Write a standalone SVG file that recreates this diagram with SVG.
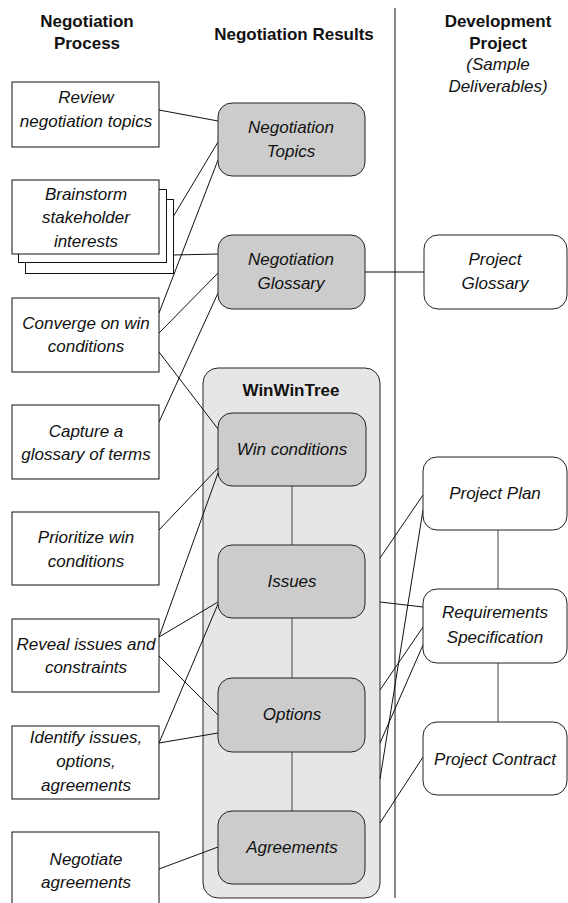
<svg xmlns="http://www.w3.org/2000/svg" width="568" height="903" viewBox="0 0 568 903">
<style>
.hdr{font-family:"Liberation Sans",Arial,sans-serif;font-size:17px;font-weight:bold;fill:#111;text-anchor:middle}
.sub{font-family:"Liberation Sans",Arial,sans-serif;font-size:17px;font-style:italic;fill:#111;text-anchor:middle}
.t{font-family:"Liberation Sans",Arial,sans-serif;font-size:17px;font-style:italic;fill:#111;text-anchor:middle}
.proc{fill:#fff;stroke:#111;stroke-width:1}
.res{fill:#cccccc;stroke:#222;stroke-width:1}
.dev{fill:#fff;stroke:#222;stroke-width:1}
.cont{fill:#e6e6e6;stroke:#222;stroke-width:1}
.ln{stroke:#111;stroke-width:1;fill:none}
.tree{stroke:#444;stroke-width:1;fill:none}
</style>
<rect width="568" height="903" fill="#fff"/>
<g id="headers">
<text class="hdr" x="87" y="27">Negotiation</text>
<text class="hdr" x="87" y="49">Process</text>
<text class="hdr" x="294" y="40">Negotiation Results</text>
<text class="hdr" x="498" y="27">Development</text>
<text class="hdr" x="498" y="49">Project</text>
<text class="sub" x="498" y="70">(Sample</text>
<text class="sub" x="498" y="92">Deliverables)</text>
</g>
<line id="divider" x1="395" y1="8" x2="395" y2="898" stroke="#111" stroke-width="1"/>
<g id="winwintree">
<rect class="cont" x="203" y="368" width="177" height="530" rx="15"/>
<text class="hdr" x="291" y="396">WinWinTree</text>
</g>
<g id="connectors">
<line class="ln" x1="159" y1="110" x2="218" y2="121"/>
<line class="ln" x1="173" y1="217" x2="218" y2="142"/>
<line class="ln" x1="173" y1="255" x2="218" y2="254"/>
<line class="ln" x1="159" y1="313" x2="218" y2="160"/>
<line class="ln" x1="159" y1="333" x2="218" y2="273"/>
<line class="ln" x1="159" y1="422" x2="218" y2="293"/>
<line class="ln" x1="159" y1="352" x2="218" y2="429"/>
<line class="ln" x1="159" y1="530" x2="218" y2="468"/>
<line class="ln" x1="159" y1="637" x2="218" y2="473"/>
<line class="ln" x1="159" y1="637" x2="218" y2="602"/>
<line class="ln" x1="159" y1="743" x2="218" y2="604"/>
<line class="ln" x1="159" y1="656" x2="218" y2="715"/>
<line class="ln" x1="159" y1="743" x2="218" y2="733"/>
<line class="ln" x1="159" y1="869" x2="218" y2="847"/>
<line class="ln" x1="365" y1="272" x2="424" y2="272"/>
<line class="ln" x1="380" y1="558" x2="423" y2="495"/>
<line class="ln" x1="380" y1="602" x2="423" y2="607"/>
<line class="ln" x1="380" y1="779" x2="423" y2="510"/>
<line class="ln" x1="380" y1="690" x2="423" y2="627"/>
<line class="ln" x1="380" y1="743" x2="423" y2="645"/>
<line class="ln" x1="380" y1="823" x2="423" y2="757"/>
<line class="tree" x1="292" y1="486" x2="292" y2="545"/>
<line class="tree" x1="292" y1="618" x2="292" y2="678"/>
<line class="tree" x1="292" y1="752" x2="292" y2="811"/>
<line class="tree" x1="498" y1="530" x2="498" y2="589"/>
<line class="tree" x1="498" y1="663" x2="498" y2="722"/>
</g>
<g id="review">
<rect class="proc" x="12" y="82" width="147" height="65"/>
<text class="t" x="86" y="103">Review</text>
<text class="t" x="86" y="127">negotiation topics</text>
</g>
<g id="brainstorm">
<rect class="proc" x="25.5" y="199.5" width="148" height="74"/>
<rect class="proc" x="18.5" y="189.5" width="148" height="73"/>
<rect class="proc" x="12" y="180" width="147" height="74"/>
<text class="t" x="86" y="200">Brainstorm</text>
<text class="t" x="86" y="223">stakeholder</text>
<text class="t" x="86" y="247">interests</text>
</g>
<g id="converge">
<rect class="proc" x="12" y="298" width="147" height="74"/>
<text class="t" x="86" y="329">Converge on win</text>
<text class="t" x="86" y="352">conditions</text>
</g>
<g id="capture">
<rect class="proc" x="12" y="405" width="147" height="74"/>
<text class="t" x="86" y="437">Capture a</text>
<text class="t" x="86" y="460">glossary of terms</text>
</g>
<g id="prioritize">
<rect class="proc" x="12" y="512" width="147" height="73"/>
<text class="t" x="86" y="543">Prioritize win</text>
<text class="t" x="86" y="567">conditions</text>
</g>
<g id="reveal">
<rect class="proc" x="12" y="619" width="147" height="73"/>
<text class="t" x="86" y="650">Reveal issues and</text>
<text class="t" x="86" y="673">constraints</text>
</g>
<g id="identify">
<rect class="proc" x="12" y="726" width="147" height="73"/>
<text class="t" x="86" y="743">Identify issues,</text>
<text class="t" x="86" y="767">options,</text>
<text class="t" x="86" y="791">agreements</text>
</g>
<g id="negotiate">
<rect class="proc" x="12" y="832" width="147" height="74"/>
<text class="t" x="86" y="865">Negotiate</text>
<text class="t" x="86" y="888">agreements</text>
</g>
<g id="negotiation-topics">
<rect class="res" x="218" y="103" width="147" height="73" rx="14"/>
<text class="t" x="291" y="133">Negotiation</text>
<text class="t" x="291" y="157">Topics</text>
</g>
<g id="negotiation-glossary">
<rect class="res" x="218" y="235" width="147" height="74" rx="14"/>
<text class="t" x="291" y="265">Negotiation</text>
<text class="t" x="291" y="289">Glossary</text>
</g>
<g id="win-conditions">
<rect class="res" x="218" y="413" width="148" height="73" rx="14"/>
<text class="t" x="292" y="455">Win conditions</text>
</g>
<g id="issues">
<rect class="res" x="218" y="545" width="147" height="73" rx="14"/>
<text class="t" x="292" y="587">Issues</text>
</g>
<g id="options">
<rect class="res" x="218" y="678" width="147" height="74" rx="14"/>
<text class="t" x="292" y="720">Options</text>
</g>
<g id="agreements">
<rect class="res" x="218" y="811" width="147" height="73" rx="14"/>
<text class="t" x="292" y="853">Agreements</text>
</g>
<g id="project-glossary">
<rect class="dev" x="424" y="235" width="143" height="74" rx="14"/>
<text class="t" x="495" y="265">Project</text>
<text class="t" x="495" y="289">Glossary</text>
</g>
<g id="project-plan">
<rect class="dev" x="423" y="457" width="144" height="73" rx="14"/>
<text class="t" x="495" y="499">Project Plan</text>
</g>
<g id="requirements-specification">
<rect class="dev" x="423" y="589" width="144" height="74" rx="14"/>
<text class="t" x="495" y="618">Requirements</text>
<text class="t" x="495" y="643">Specification</text>
</g>
<g id="project-contract">
<rect class="dev" x="423" y="722" width="144" height="73" rx="14"/>
<text class="t" x="495" y="765">Project Contract</text>
</g>
</svg>
